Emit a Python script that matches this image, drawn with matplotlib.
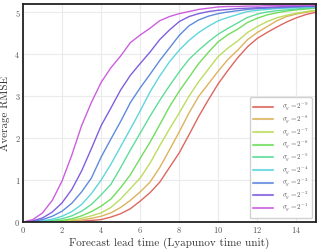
import matplotlib
matplotlib.use("Agg")
import matplotlib.pyplot as plt
import seaborn as sns

t = [0, 0.5, 1, 1.5, 2, 2.5, 3, 3.5, 4, 4.5, 5, 5.5, 6, 6.5, 7, 7.5, 8, 8.5, 9, 9.5,
     10, 10.5, 11, 11.5, 12, 12.5, 13, 13.5, 14, 14.5, 15]

rmse_m9 = [0, 0, 0, 0, 0, 0.01, 0.02, 0.04, 0.06, 0.12, 0.2, 0.32, 0.5, 0.7, 0.95, 1.3,
           1.65, 2.08, 2.52, 2.92, 3.3, 3.62, 3.92, 4.18, 4.38, 4.52, 4.65, 4.77, 4.87, 4.95, 5.0]
rmse_m8 = [0, 0, 0, 0, 0.01, 0.03, 0.05, 0.09, 0.14, 0.22, 0.35, 0.52, 0.72, 0.95, 1.3, 1.72,
           2.15, 2.6, 3.0, 3.3, 3.6, 3.88, 4.1, 4.35, 4.52, 4.66, 4.8, 4.9, 4.96, 5.0, 5.04]
rmse_m7 = [0, 0, 0, 0.01, 0.02, 0.05, 0.09, 0.15, 0.22, 0.35, 0.55, 0.8, 1.05, 1.4, 1.82, 2.22,
           2.6, 3.0, 3.35, 3.65, 3.95, 4.15, 4.32, 4.52, 4.66, 4.78, 4.87, 4.93, 4.98, 5.02, 5.05]
rmse_m6 = [0, 0, 0.01, 0.02, 0.04, 0.08, 0.15, 0.25, 0.38, 0.55, 0.82, 1.13, 1.52, 1.9, 2.32, 2.75,
           3.12, 3.45, 3.78, 4.05, 4.3, 4.47, 4.6, 4.76, 4.86, 4.94, 4.99, 5.03, 5.06, 5.08, 5.1]
rmse_m5 = [0, 0.01, 0.02, 0.04, 0.08, 0.15, 0.26, 0.42, 0.65, 0.9, 1.3, 1.72, 2.12, 2.52, 2.9, 3.25,
           3.58, 3.88, 4.1, 4.3, 4.48, 4.62, 4.75, 4.88, 4.96, 5.01, 5.04, 5.06, 5.08, 5.1, 5.11]
rmse_m4 = [0, 0.01, 0.03, 0.07, 0.14, 0.25, 0.42, 0.68, 1.0, 1.38, 1.8, 2.22, 2.65, 3.1, 3.48, 3.82,
           4.1, 4.33, 4.52, 4.67, 4.8, 4.88, 4.95, 5.02, 5.05, 5.07, 5.09, 5.1, 5.11, 5.12, 5.13]
rmse_m3 = [0, 0.02, 0.06, 0.14, 0.26, 0.45, 0.72, 1.05, 1.55, 1.98, 2.4, 2.85, 3.2, 3.52, 3.85, 4.15,
           4.45, 4.68, 4.82, 4.91, 4.97, 5.01, 5.04, 5.07, 5.09, 5.1, 5.11, 5.12, 5.13, 5.14, 5.14]
rmse_m2 = [0, 0.03, 0.1, 0.24, 0.46, 0.78, 1.22, 1.75, 2.3, 2.72, 3.15, 3.5, 3.78, 4.05, 4.35, 4.58,
           4.78, 4.9, 4.97, 5.02, 5.05, 5.07, 5.09, 5.1, 5.11, 5.12, 5.13, 5.14, 5.14, 5.15, 5.15]
rmse_m1 = [0, 0.06, 0.22, 0.52, 0.98, 1.6, 2.3, 2.85, 3.33, 3.68, 3.96, 4.28, 4.46, 4.62, 4.8, 4.9,
           4.97, 5.02, 5.07, 5.1, 5.13, 5.14, 5.14, 5.15, 5.15, 5.16, 5.16, 5.16, 5.17, 5.17, 5.17]

series = [rmse_m9, rmse_m8, rmse_m7, rmse_m6, rmse_m5, rmse_m4, rmse_m3, rmse_m2, rmse_m1]
exponents = [-9, -8, -7, -6, -5, -4, -3, -2, -1]
xticks = [0, 2, 4, 6, 8, 10, 12, 14]
yticks = [0, 1, 2, 3, 4, 5]

sns.set_theme(style="whitegrid")
plt.rcParams['font.family'] = 'serif'
plt.rcParams['font.serif'] = ['cmr10', 'DejaVu Serif']
plt.rcParams['mathtext.fontset'] = 'cm'
plt.rcParams['axes.formatter.use_mathtext'] = True

colors = sns.color_palette("hls", 10)[:len(series)]

fig = plt.figure(figsize=(3.2, 2.49), dpi=100)
ax = fig.add_axes([0.072, 0.108, 0.915, 0.876])
for vals, e, c in zip(series, exponents, colors):
    ax.plot(t, vals, color=c, lw=1.0, alpha=0.95, label=r'$\sigma_y = 2^{%d}$' % e)

ax.set_xlim(0, 15)
ax.set_ylim(0, 5.2)
ax.set_xticks(xticks)
ax.set_yticks(yticks)
ax.tick_params(labelsize=6, colors='#555555', pad=2, length=0)
ax.grid(color='#ebebeb', lw=0.8)
for s in ax.spines.values():
    s.set_color('#222222')
    s.set_linewidth(1.3)
ax.set_xlabel('Forecast lead time (Lyapunov time unit)', fontsize=8, color='#333333', labelpad=2)
ax.set_ylabel('Average RMSE', fontsize=8, color='#333333', labelpad=3)
leg = ax.legend(loc='lower right', fontsize=5, frameon=True, framealpha=0.9,
                handlelength=2.9, labelspacing=0.0, borderpad=0.5, handletextpad=1.2,
                borderaxespad=0.6)
for txt in leg.get_texts():
    txt.set_color('#555555')
for ln in leg.get_lines():
    ln.set_linewidth(1.5)
    ln.set_alpha(0.8)
fig.savefig('out.png', dpi=100)
